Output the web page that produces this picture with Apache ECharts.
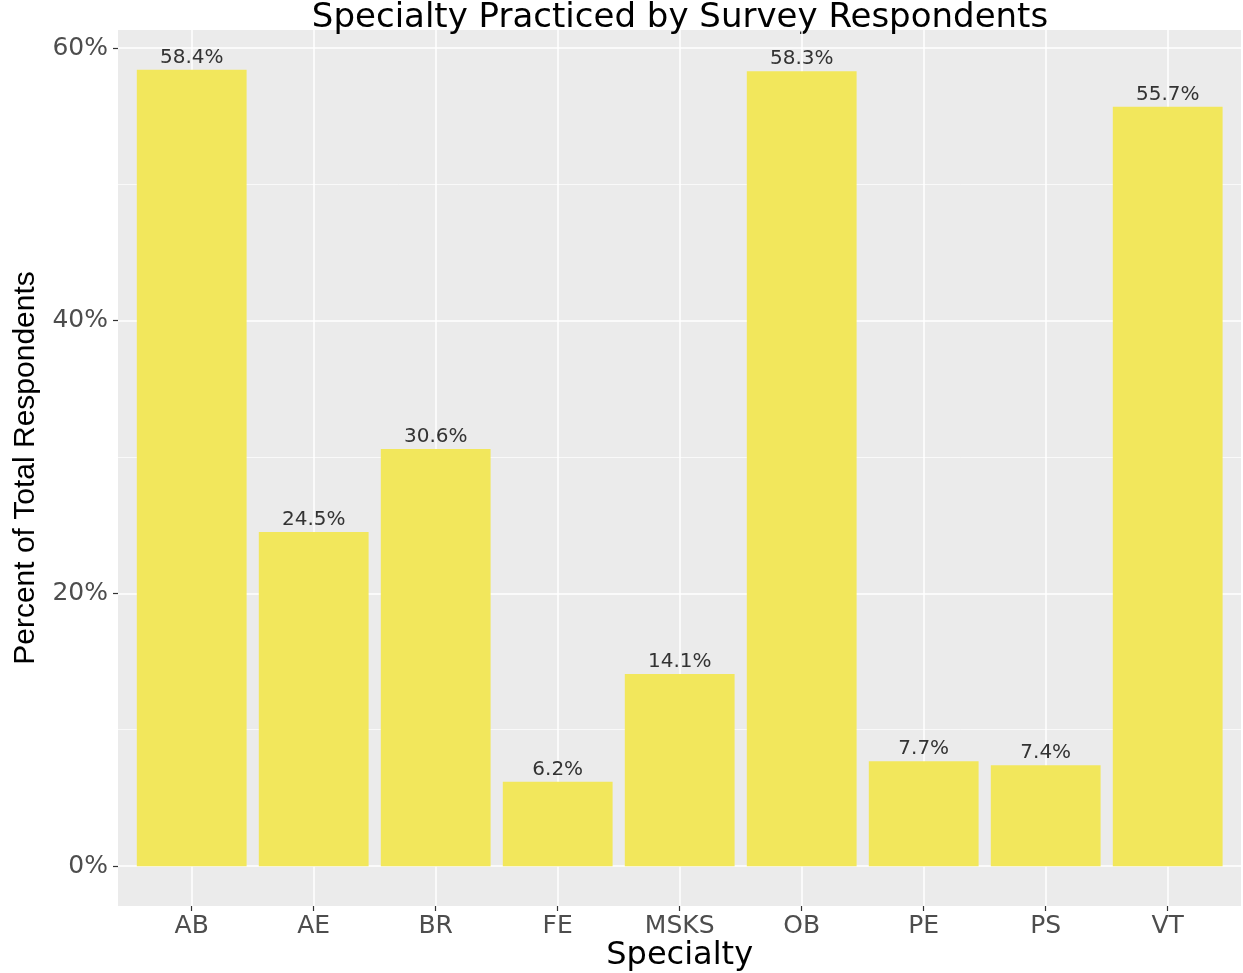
<!DOCTYPE html>
<html>
<head>
<meta charset="utf-8">
<script src="https://cdn.jsdelivr.net/npm/echarts@6/dist/echarts.min.js"></script>
<style>
html,body{margin:0;padding:0;background:#fff;}
#chart{width:1243px;height:973px;}
</style>
</head>
<body>
<div id="chart"></div>
<script>
const categories = ['AB', 'AE', 'BR', 'FE', 'MSKS', 'OB', 'PE', 'PS', 'VT'];
const percentValues = [58.4, 24.5, 30.6, 6.2, 14.1, 58.3, 7.7, 7.4, 55.7];
const yTicks = [0, 20, 40, 60];
const titleText = 'Specialty Practiced by Survey Respondents';
const xTitle = 'Specialty';
const yTitle = 'Percent of Total Respondents';

const chart = echarts.init(document.getElementById('chart'));
const FONT = 'DejaVu Sans';
const option = {
  backgroundColor: '#ffffff',
  animation: false,
  graphic: [{
    type: 'text',
    x: 680, y: 18,
    style: { text: titleText, align: 'center', verticalAlign: 'middle',
      font: '34px "DejaVu Sans"', fill: '#000' }
  }, {
    type: 'text',
    x: 26, y: 468, rotation: Math.PI / 2,
    style: { text: yTitle, align: 'center', verticalAlign: 'middle',
      font: '30px "Liberation Sans"', fill: '#000' }
  }],
  grid: [
    { left: 118, right: 2, top: 30, bottom: 67, show: true, backgroundColor: '#EBEBEB', borderWidth: 0, outerBoundsMode: 'none', containLabel: false },
    { left: 130.7, right: 14.3, top: 30, bottom: 67, show: false, outerBoundsMode: 'none', containLabel: false },
    { left: 118, right: 2, top: 48, bottom: 107, show: false, outerBoundsMode: 'none', containLabel: false }
  ],
  xAxis: [
    { type: 'category', gridIndex: 0, data: categories, show: false },
    { type: 'category', gridIndex: 1, data: categories,
      axisLine: { show: false, onZero: false },
      axisTick: { show: true, alignWithLabel: true, length: 5, lineStyle: { color: '#333', width: 1.2 } },
      axisLabel: { color: '#4D4D4D', fontSize: 25, fontFamily: FONT, margin: 8 },
      splitLine: { show: true, alignWithLabel: true, lineStyle: { color: '#fff', width: 1.5 } },
      name: xTitle, nameLocation: 'middle', nameGap: 34, nameMoveOverlap: false,
      nameTextStyle: { color: '#000', fontSize: 32, fontFamily: FONT }
    },
    { type: 'category', gridIndex: 2, data: categories, show: false }
  ],
  yAxis: [
    { type: 'value', gridIndex: 0, min: -2.92, max: 61.32, show: false },
    { type: 'value', gridIndex: 1, min: -2.92, max: 61.32, show: false },
    { type: 'value', gridIndex: 2, min: 0, max: 60, interval: 20,
      axisLine: { show: false },
      axisTick: { show: true, length: 5, lineStyle: { color: '#333', width: 1.2 } },
      axisLabel: { color: '#4D4D4D', fontSize: 25, fontFamily: FONT, margin: 10,
        formatter: v => yTicks.includes(v) ? v + '%' : '' },
      splitLine: { show: true, lineStyle: { color: '#fff', width: 1.5 } },
      minorTick: { show: false, splitNumber: 2 },
      minorSplitLine: { show: true, lineStyle: { color: '#fff', width: 0.7 } }
    }
  ],
  series: [{
    type: 'bar', xAxisIndex: 1, yAxisIndex: 1,
    data: percentValues,
    barCategoryGap: '10%',
    itemStyle: { color: '#F2E75C' },
    label: { show: true, position: 'top', distance: 2, formatter: '{c}%',
      color: '#333', fontSize: 20, fontFamily: FONT }
  }]
};
chart.setOption(option);
</script>
</body>
</html>
